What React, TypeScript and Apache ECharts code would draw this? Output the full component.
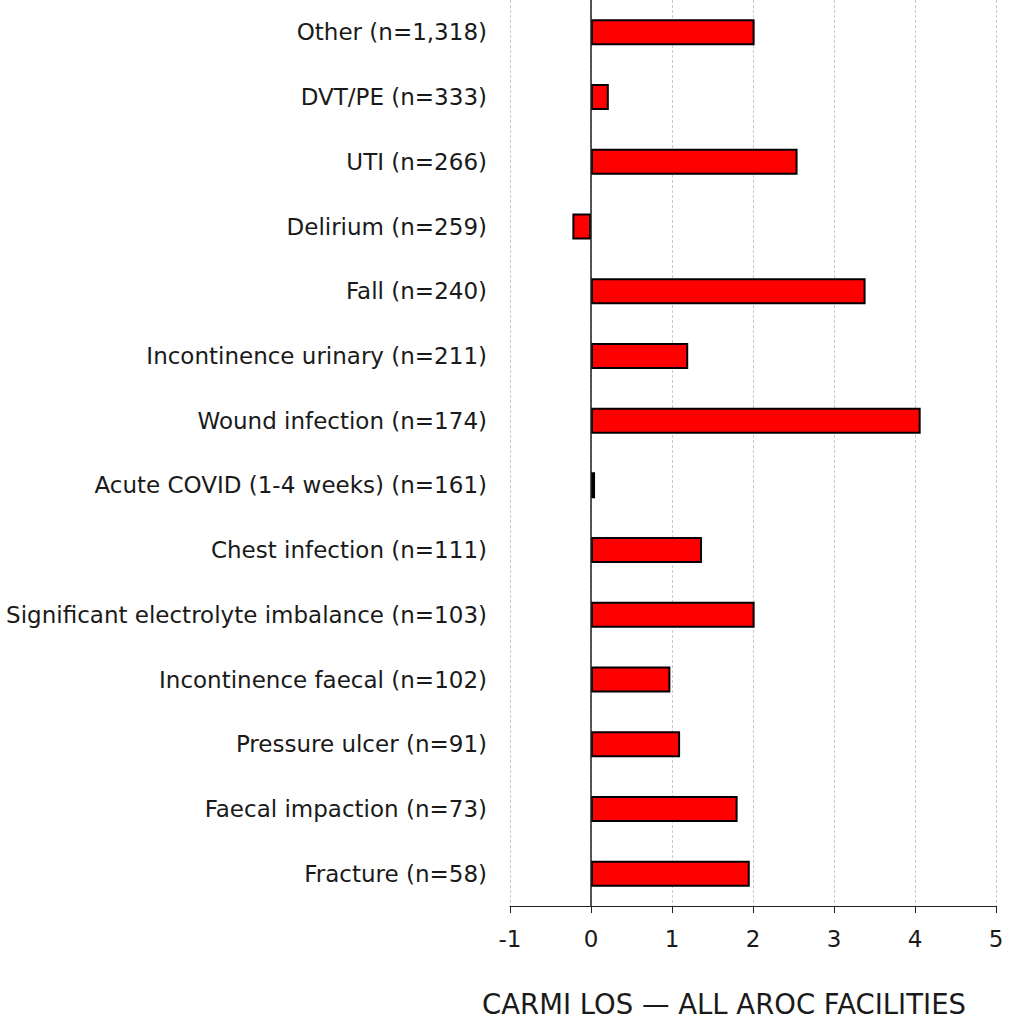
import React, { useEffect, useRef } from "react";
import * as echarts from "echarts";

const categories = [
  "Other (n=1,318)",
  "DVT/PE (n=333)",
  "UTI (n=266)",
  "Delirium (n=259)",
  "Fall (n=240)",
  "Incontinence urinary (n=211)",
  "Wound infection (n=174)",
  "Acute COVID (1-4 weeks) (n=161)",
  "Chest infection (n=111)",
  "Significant electrolyte imbalance (n=103)",
  "Incontinence faecal (n=102)",
  "Pressure ulcer (n=91)",
  "Faecal impaction (n=73)",
  "Fracture (n=58)",
];

const values = [2.02, 0.22, 2.55, -0.23, 3.39, 1.2, 4.07, 0.05, 1.37, 2.02, 0.98, 1.1, 1.81, 1.96];

const axisTitle = "CARMI LOS \u2014 ALL AROC FACILITIES";
const fontFamily = "'DejaVu Sans', 'Open Sans', sans-serif";

export default function App() {
  const ref = useRef<HTMLDivElement>(null);
  useEffect(() => {
    if (!ref.current) return;
    const chart = echarts.init(ref.current, null, { renderer: "svg" });
    chart.setOption({
      animation: false,
      textStyle: { fontFamily },
      grid: { left: 510, right: 22, top: 0, bottom: 113, containLabel: false },
      xAxis: {
        type: "value",
        min: -1,
        max: 5,
        interval: 1,
        position: "bottom",
        axisLine: { show: true, onZero: false, lineStyle: { color: "#222", width: 1 } },
        axisTick: { show: true, length: 7, lineStyle: { color: "#222" } },
        axisLabel: { color: "#1a1a1a", fontSize: 23, margin: 21, fontFamily },
        splitLine: { show: true, lineStyle: { color: "#c8c8c8", type: [3, 2], width: 1 } },
        name: axisTitle,
        nameLocation: "middle",
        nameGap: 84,
        nameTextStyle: { color: "#1a1a1a", fontSize: 27.5, fontFamily, padding: [0, 58, 0, 0] },
      },
      yAxis: {
        type: "category",
        inverse: true,
        data: categories,
        axisLine: { show: false },
        axisTick: { show: false },
        axisLabel: { color: "#1a1a1a", fontSize: 23, margin: 23, fontFamily },
        splitLine: { show: false },
      },
      series: [
        {
          type: "bar",
          data: values,
          barWidth: 26,
          itemStyle: { color: "#ff0000", borderColor: "#000", borderWidth: 2 },
          markLine: {
            silent: true,
            symbol: "none",
            label: { show: false },
            lineStyle: { color: "#222", type: "solid", width: 1.5 },
            data: [{ xAxis: 0 }],
          },
        },
      ],
    });
    return () => chart.dispose();
  }, []);
  return (
    <div
      ref={ref}
      style={{ position: "absolute", left: 0, top: 0, width: 1018, height: 1023, background: "#fff" }}
    />
  );
}
